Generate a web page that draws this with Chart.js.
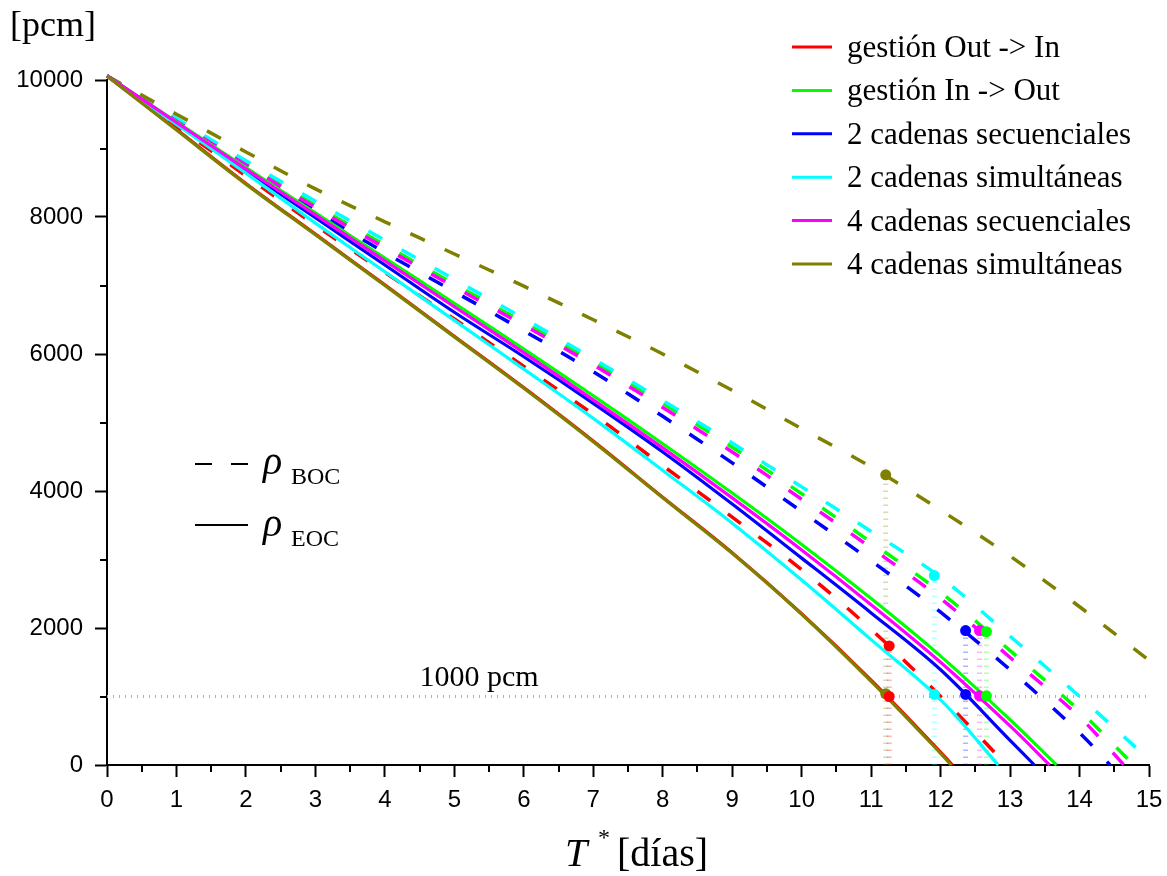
<!DOCTYPE html>
<html>
<head>
<meta charset="utf-8">
<script src="https://cdn.jsdelivr.net/npm/chart.js@4.4.1/dist/chart.umd.min.js"></script>
<style>
    html, body { margin: 0; background: #fff; }
</style>
</head>
<body>
<canvas id="chart" width="1167" height="876"></canvas>
<script>
// days T* (integer grid); each curve also gets the day where it reaches 0 pcm
const tDias = [0, 1, 2, 3, 4, 5, 6, 7, 8, 9, 10, 11, 12, 13, 14, 15];

const seriesNames = ["gestión Out -> In", "gestión In -> Out", "2 cadenas secuenciales",
    "2 cadenas simultáneas", "4 cadenas secuenciales", "4 cadenas simultáneas"];
const seriesColors = ['#ff0000', '#00ff00', '#0000ff', '#00ffff', '#ff00ff', '#808000'];

// rho EOC (solid)
const outInEoc = [10060, 9280, 8490, 7750, 7010, 6260, 5510, 4730, 3910, 3100, 2210, 1240, 190];
const inOutEoc = [10060, 9390, 8720, 8060, 7400, 6740, 6070, 5390, 4690, 3970, 3220, 2430, 1590, 660];
const sec2Eoc = [10060, 9370, 8680, 7990, 7300, 6610, 5960, 5280, 4570, 3810, 3020, 2220, 1390, 360];
const sim2Eoc = [10060, 9350, 8640, 7910, 7200, 6490, 5780, 5060, 4300, 3530, 2700, 1830, 950];
const sec4Eoc = [10060, 9380, 8700, 8030, 7360, 6690, 6020, 5330, 4630, 3900, 3140, 2340, 1500, 570];
const sim4Eoc = [10060, 9270, 8480, 7740, 7000, 6250, 5500, 4720, 3900, 3090, 2200, 1220, 170];
const eocEnd = [12.17, 13.67, 13.35, 12.83, 13.57, 12.15];

// rho BOC (dashed)
const outInBoc = [10060, 9330, 8600, 7880, 7190, 6510, 5820, 5120, 4370, 3620, 2850, 1980, 1000];
const inOutBoc = [10060, 9410, 8780, 8170, 7590, 7020, 6460, 5890, 5280, 4640, 3960, 3250, 2520, 1670, 790];
const sec2Boc = [10060, 9380, 8720, 8090, 7480, 6910, 6340, 5740, 5090, 4410, 3700, 2980, 2230, 1390, 470];
const sim2Boc = [10060, 9440, 8820, 8230, 7660, 7090, 6520, 5930, 5320, 4700, 4060, 3410, 2740, 1880, 1000, 80];
const sec4Boc = [10060, 9400, 8760, 8140, 7550, 6980, 6420, 5840, 5220, 4570, 3880, 3170, 2430, 1570, 700];
const sim4Boc = [10060, 9500, 8950, 8410, 7930, 7460, 6990, 6500, 6000, 5470, 4910, 4350, 3720, 3050, 2310, 1530];
const bocEnd = [12.95, 14.78, 14.44, null, 14.64, null];

// cycle length where EOC = 1000 pcm, and BOC there
const markT = [11.26, 12.66, 12.36, 11.91, 12.56, 11.21];
const markEoc = [1000, 1010, 1030, 1030, 1010, 1040];
const markBoc = [1738, 1947, 1962, 2766, 1962, 4237];

const eocSeries = [outInEoc, inOutEoc, sec2Eoc, sim2Eoc, sec4Eoc, sim4Eoc];
const bocSeries = [outInBoc, inOutBoc, sec2Boc, sim2Boc, sec4Boc, sim4Boc];

function toPoints(vals, end) {
    const pts = vals.map((v, i) => ({ x: tDias[i], y: v }));
    if (end !== null) pts.push({ x: end, y: 0 });
    return pts;
}

function fade(hex, a) {
    const n = parseInt(hex.slice(1), 16);
    return `rgba(${(n >> 16) & 255}, ${(n >> 8) & 255}, ${n & 255}, ${a})`;
}

const datasets = [];
const solidOrder = [6, 5, 4, 3, 2, 1];

seriesColors.forEach((color, i) => {
    datasets.push({
        data: toPoints(eocSeries[i], eocEnd[i]),
        borderColor: color, borderWidth: 3.2, pointRadius: 0,
        tension: 0.35, order: solidOrder[i], clip: 8,
    });
    datasets.push({
        data: toPoints(bocSeries[i], bocEnd[i]),
        borderColor: color, borderWidth: 3.5, borderDash: [16, 22], pointRadius: 0,
        tension: 0.35, order: 10 + solidOrder[i], clip: 8,
    });
    // faint vertical guide
    datasets.push({
        data: [{ x: markT[i], y: 0 }, { x: markT[i], y: markBoc[i] }],
        borderColor: fade(color, 0.3), borderWidth: 5, borderDash: [1.5, 5.5], pointRadius: 0,
        order: 30,
    });
    datasets.push({
        data: [{ x: markT[i], y: markEoc[i] }, { x: markT[i], y: markBoc[i] }],
        showLine: false, pointRadius: 5.5, pointBackgroundColor: color, pointBorderWidth: 0,
        order: 0,
    });
});

// 1000 pcm reference line
datasets.push({
    data: [{ x: 0, y: 1000 }, { x: 15, y: 1000 }],
    borderColor: '#b0b0b0', borderWidth: 3, borderDash: [1, 5], pointRadius: 0, order: 31,
});

const serif = '"Liberation Serif", "Times New Roman", serif';

function text(ctx, s, x, y, font, align) {
    ctx.font = font;
    ctx.textAlign = align || 'left';
    ctx.textBaseline = 'alphabetic';
    ctx.fillStyle = '#000';
    ctx.fillText(s, x, y);
}

const decorPlugin = {
    id: 'decor',
    afterDraw(chart) {
        const ctx = chart.ctx;
        const xs = chart.scales.x;
        const ys = chart.scales.y;
        const area = chart.chartArea;
        ctx.save();

        // minor ticks
        ctx.strokeStyle = '#000';
        ctx.lineWidth = 2;
        ctx.beginPath();
        for (let v = 0.5; v < 15; v += 1) {
            const px = Math.round(xs.getPixelForValue(v));
            ctx.moveTo(px, area.bottom);
            ctx.lineTo(px, area.bottom + 7);
        }
        for (let v = 1000; v < 10000; v += 2000) {
            const py = Math.round(ys.getPixelForValue(v));
            ctx.moveTo(area.left, py);
            ctx.lineTo(area.left - 7, py);
        }
        ctx.stroke();

        // axis titles
        text(ctx, '[pcm]', 10, 36, `36px ${serif}`);
        text(ctx, 'T', 565, 866, `italic 40px ${serif}`);
        text(ctx, '*', 598, 845, `24px ${serif}`);
        text(ctx, '[días]', 617, 866, `40px ${serif}`);

        // 1000 pcm label
        text(ctx, '1000 pcm', 479, 686, `30px ${serif}`, 'center');

        // series legend
        seriesNames.forEach((name, i) => {
            const y = 47 + i * 43.4;
            ctx.strokeStyle = seriesColors[i];
            ctx.lineWidth = 3;
            ctx.setLineDash([]);
            ctx.beginPath();
            ctx.moveTo(792, y);
            ctx.lineTo(832, y);
            ctx.stroke();
            text(ctx, name, 847, y + 10, `31px ${serif}`);
        });

        // BOC / EOC key
        ctx.strokeStyle = '#000';
        ctx.lineWidth = 2;
        ctx.beginPath();
        ctx.moveTo(195, 464); ctx.lineTo(212, 464);
        ctx.moveTo(231, 464); ctx.lineTo(248, 464);
        ctx.moveTo(195, 525); ctx.lineTo(248, 525);
        ctx.stroke();
        text(ctx, 'ρ', 263, 474, `italic 40px ${serif}`);
        text(ctx, 'BOC', 291, 484, `24px ${serif}`);
        text(ctx, 'ρ', 263, 536, `italic 40px ${serif}`);
        text(ctx, 'EOC', 291, 546, `24px ${serif}`);

        ctx.restore();
    },
};

const tickFont = { family: '"Liberation Sans", Arial, sans-serif', size: 24 };

const chart = new Chart(document.getElementById('chart').getContext('2d'), {
    type: 'line',
    data: { datasets: datasets },
    options: {
        responsive: false,
        animation: false,
        layout: { padding: { left: 0, top: 80, right: 18, bottom: 0 } },
        plugins: { legend: { display: false }, tooltip: { enabled: false } },
        scales: {
            x: {
                type: 'linear', min: 0, max: 15,
                ticks: { stepSize: 1, font: tickFont, color: '#000', padding: 9, maxRotation: 0, autoSkip: false },
                grid: { drawOnChartArea: false, tickLength: 12, tickWidth: 2, tickColor: '#000' },
                border: { color: '#000', width: 2 },
                afterFit: function (scale) {
                    scale.height = 111;
                    scale.paddingLeft = 0;
                    scale.paddingRight = 0;
                },
            },
            y: {
                type: 'linear', min: 0, max: 10000,
                ticks: { stepSize: 2000, font: tickFont, color: '#000', padding: 12,
                    callback: function (value) { return String(value); } },
                grid: { drawOnChartArea: false, tickLength: 12, tickWidth: 2, tickColor: '#000' },
                border: { color: '#000', width: 2 },
                afterFit: function (scale) { scale.width = 107; },
            },
        },
    },
    plugins: [decorPlugin],
});
</script>
</body>
</html>
